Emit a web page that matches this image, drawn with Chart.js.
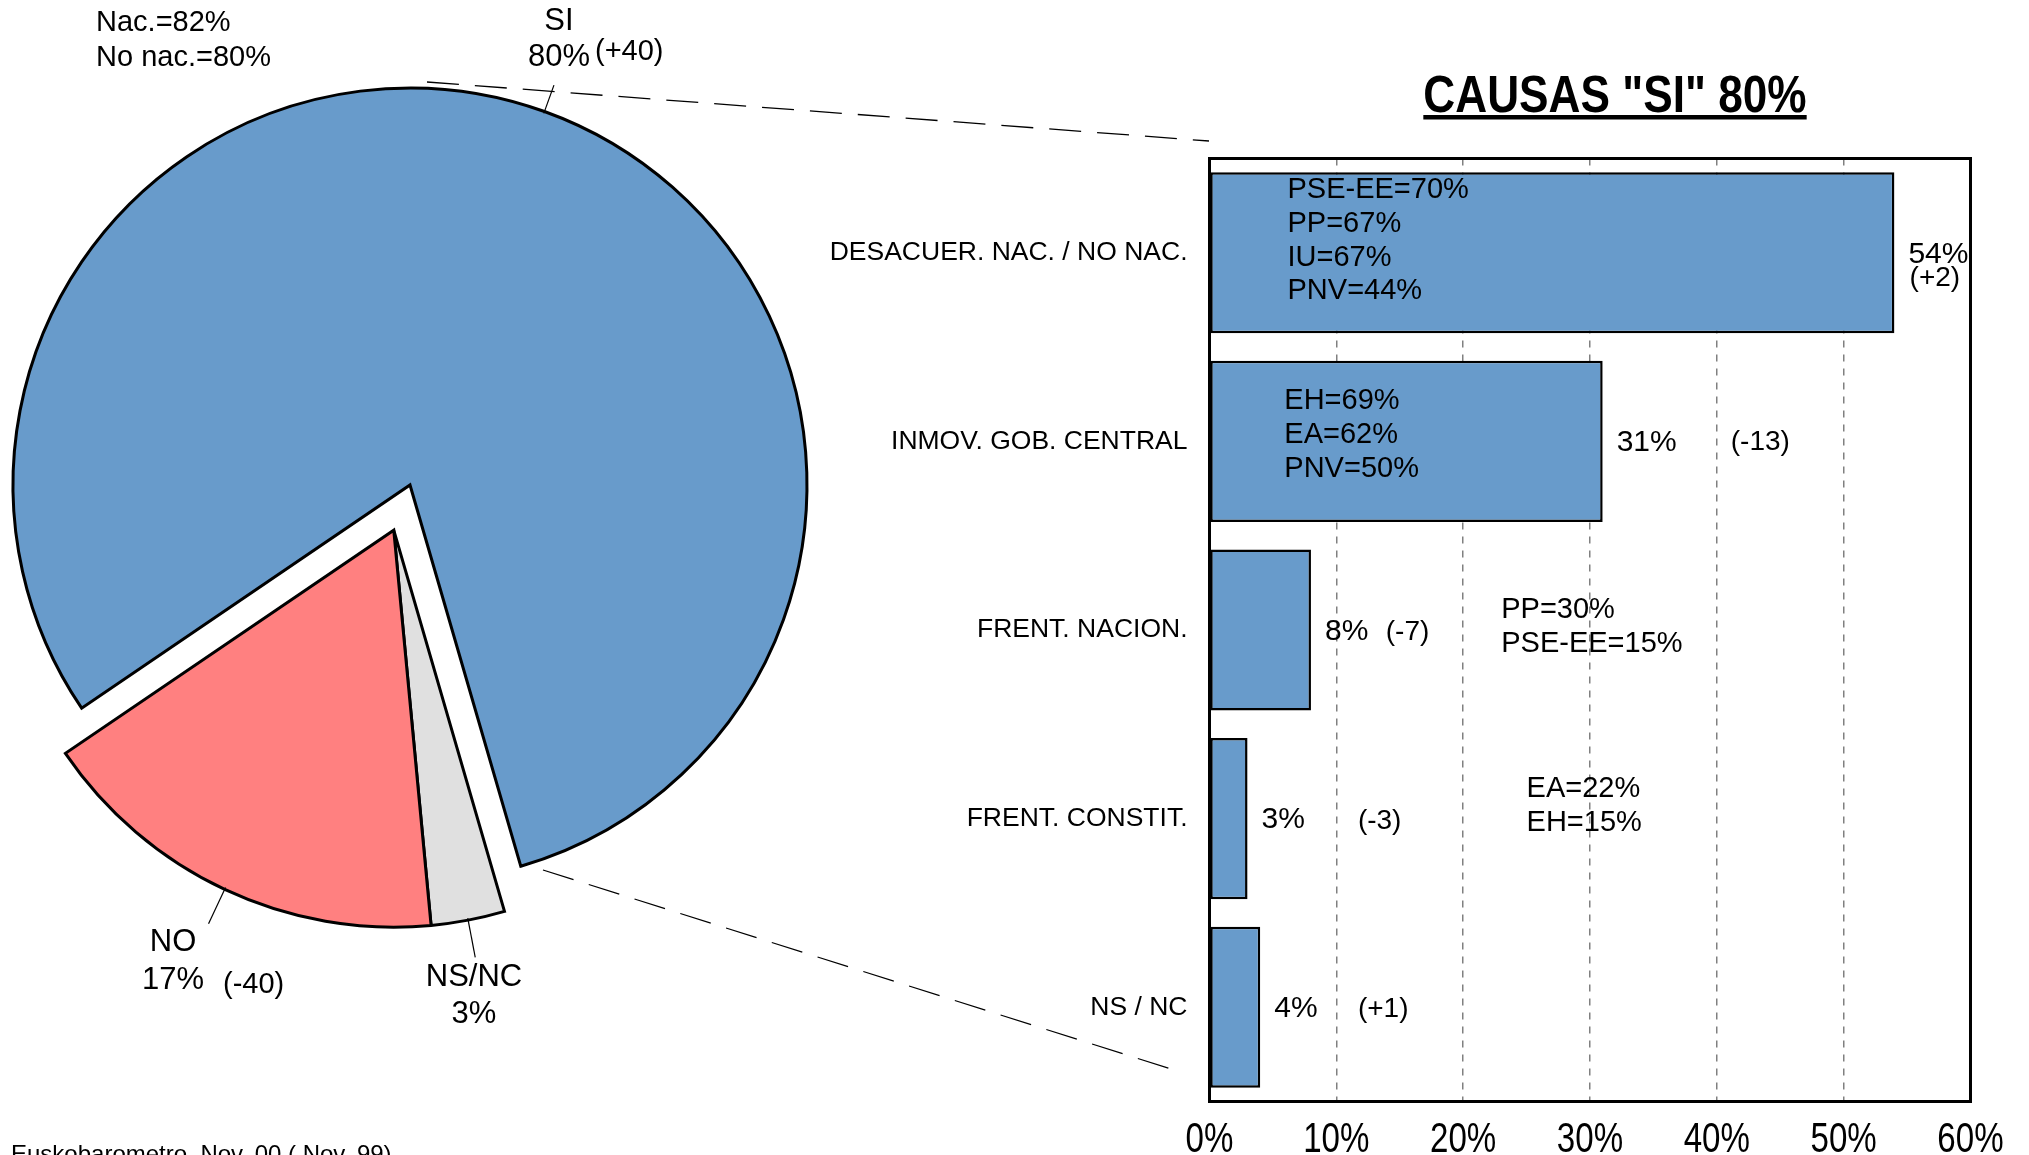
<!DOCTYPE html>
<html>
<head>
<meta charset="utf-8">
<script src="https://cdn.jsdelivr.net/npm/chart.js@4.4.1/dist/chart.umd.min.js"></script>
<style>
  html, body { margin: 0; padding: 0; background: #fff; }
  #wrap { position: relative; width: 2029px; height: 1155px; overflow: hidden; background: #fff; }
  #wrap canvas { position: absolute; left: 0; top: 0; }
</style>
</head>
<body>
<div id="wrap">
  <canvas id="pieCanvas" width="2029" height="1155"></canvas>
  <canvas id="barCanvas" width="2029" height="1155"></canvas>
</div>
<script>
// Pie data (drawn clockwise: SI, NS/NC, NO)
const pieLabels = ['SI', 'NS/NC', 'NO'];
const pieValues = [80, 3, 17];
const pieChanges = ['(+40)', '', '(-40)'];
const pieColors = ['#689BCB', '#E0E0E0', '#FF8080'];

// Bar data: causes of "SI"
const barCategories = ['DESACUER. NAC. / NO NAC.', 'INMOV. GOB. CENTRAL', 'FRENT. NACION.', 'FRENT. CONSTIT.', 'NS / NC'];
const barValues = [54, 31, 8, 3, 4];
const barChanges = ['(+2)', '(-13)', '(-7)', '(-3)', '(+1)'];
const barNotes = [
  ['PSE-EE=70%', 'PP=67%', 'IU=67%', 'PNV=44%'],
  ['EH=69%', 'EA=62%', 'PNV=50%'],
  ['PP=30%', 'PSE-EE=15%'],
  ['EA=22%', 'EH=15%'],
  []
];
const xTickValues = [0, 10, 20, 30, 40, 50, 60];
const xTickLabels = ['0%', '10%', '20%', '30%', '40%', '50%', '60%'];

const chartTitle = 'CAUSAS "SI" 80%';
const topNotes = ['Nac.=82%', 'No nac.=80%'];
const sourceText = 'Euskobarometro. Nov. 00 ( Nov. 99)';

const SANS = '"Liberation Sans", Arial, sans-serif';

// Layout (positions only)
const explodeDist = 48;
const leaderLen = [28, 38, 38];
const pieText = [
  { name: [559, 21], value: [559, 57], change: [595, 52] },
  { name: [474, 977], value: [474, 1014] },
  { name: [173, 942], value: [173, 980], change: [223, 985] }
];
const noteX = [6.15, 5.9, 23.0, 25.0, 0];
const noteY0 = [-62.8, -40.4, -20, -29.6, 0];
const noteLine = 33.8;
const changePos = [
  { x: 55.2, dy: 25 }, { x: 41.1, dy: 1 }, { x: 13.9, dy: 2 }, { x: 11.7, dy: 3 }, { x: 11.7, dy: 2 }
];

// narrow text: regular face squeezed horizontally
function narrowText(ctx, text, x, y, font, squeeze) {
  ctx.save();
  ctx.font = font;
  ctx.translate(x, y);
  ctx.scale(squeeze, 1);
  ctx.fillText(text, 0, 0);
  const w = ctx.measureText(text).width * squeeze;
  ctx.restore();
  return w;
}

// Move NS/NC and NO together away from the centre
const explodePlugin = {
  id: 'explode',
  beforeDatasetsDraw(chart) {
    const arcs = chart.getDatasetMeta(0).data;
    const cx = arcs[0].x, cy = arcs[0].y;
    const mid = (arcs[1].startAngle + arcs[2].endAngle) / 2;
    for (let i = 1; i < arcs.length; i++) {
      arcs[i].x = cx + Math.cos(mid) * explodeDist;
      arcs[i].y = cy + Math.sin(mid) * explodeDist;
    }
  }
};

const pieTextPlugin = {
  id: 'pieText',
  afterDraw(chart) {
    const ctx = chart.ctx;
    const arcs = chart.getDatasetMeta(0).data;
    ctx.save();

    // leader lines
    ctx.strokeStyle = '#000';
    ctx.lineWidth = 1.2;
    arcs.forEach(function(arc, i) {
      const a = (arc.startAngle + arc.endAngle) / 2;
      const r = arc.outerRadius;
      ctx.beginPath();
      ctx.moveTo(arc.x + Math.cos(a) * (r - 2), arc.y + Math.sin(a) * (r - 2));
      ctx.lineTo(arc.x + Math.cos(a) * (r + leaderLen[i]), arc.y + Math.sin(a) * (r + leaderLen[i]));
      ctx.stroke();
    });

    // dashed connectors to the bar chart
    ctx.setLineDash([32, 16]);
    ctx.lineWidth = 1.3;
    ctx.beginPath();
    ctx.moveTo(427, 82); ctx.lineTo(1209, 141);
    ctx.moveTo(543, 870); ctx.lineTo(1171, 1069);
    ctx.stroke();
    ctx.setLineDash([]);

    // slice labels
    ctx.fillStyle = '#000';
    ctx.textBaseline = 'middle';
    pieText.forEach(function(t, i) {
      ctx.font = '31px ' + SANS;
      ctx.textAlign = 'center';
      ctx.fillText(pieLabels[i], t.name[0], t.name[1]);
      ctx.fillText(pieValues[i] + '%', t.value[0], t.value[1]);
      if (t.change) {
        ctx.font = '29px ' + SANS;
        ctx.textAlign = 'left';
        ctx.fillText(pieChanges[i], t.change[0], t.change[1]);
      }
    });

    ctx.font = '29px ' + SANS;
    ctx.textAlign = 'left';
    ctx.fillText(topNotes[0], 96, 23);
    ctx.fillText(topNotes[1], 96, 58);

    ctx.font = '24px ' + SANS;
    ctx.textBaseline = 'alphabetic';
    ctx.fillText(sourceText, 11, 1162);
    ctx.restore();
  }
};

new Chart(document.getElementById('pieCanvas'), {
  type: 'pie',
  data: {
    labels: pieLabels,
    datasets: [{
      data: pieValues,
      backgroundColor: pieColors,
      borderColor: '#000',
      borderWidth: 3,
      borderJoinStyle: 'miter'
    }]
  },
  options: {
    responsive: false,
    animation: false,
    events: [],
    rotation: 235.8,
    radius: 397,
    layout: { padding: { left: 10, top: 85, right: 1219, bottom: 270 } },
    plugins: { legend: { display: false }, tooltip: { enabled: false } }
  },
  plugins: [explodePlugin, pieTextPlugin]
});

const barTextPlugin = {
  id: 'barText',
  afterDatasetsDraw(chart) {
    const ctx = chart.ctx;
    const xs = chart.scales.x, ys = chart.scales.y;
    const area = chart.chartArea;
    ctx.save();

    // frame
    ctx.strokeStyle = '#000';
    ctx.lineWidth = 3;
    ctx.strokeRect(area.left, area.top, area.right - area.left, area.bottom - area.top);

    ctx.fillStyle = '#000';
    ctx.textBaseline = 'middle';
    ctx.textAlign = 'left';

    barValues.forEach(function(v, i) {
      const yc = ys.getPixelForValue(i);
      ctx.font = '30px ' + SANS;
      ctx.fillText(v + '%', xs.getPixelForValue(v) + 14, yc + 1.5);
      ctx.font = '28px ' + SANS;
      ctx.fillText(barChanges[i], xs.getPixelForValue(changePos[i].x), yc + changePos[i].dy);
      ctx.font = '29px ' + SANS;
      barNotes[i].forEach(function(n, j) {
        ctx.fillText(n, xs.getPixelForValue(noteX[i]), yc + noteY0[i] + j * noteLine);
      });
    });

    // x tick labels (narrow face), placed by the x scale
    ctx.textAlign = 'center';
    ctx.textBaseline = 'alphabetic';
    xTickValues.forEach(function(v, i) {
      narrowText(ctx, xTickLabels[i], xs.getPixelForValue(v), 1152, '43px ' + SANS, 0.77);
    });

    // title with underline
    const tx = 1615;
    const w = narrowText(ctx, chartTitle, tx, 112, 'bold 52px ' + SANS, 0.85);
    ctx.fillRect(tx - w / 2, 115, w, 4.5);
    ctx.restore();
  }
};

new Chart(document.getElementById('barCanvas'), {
  type: 'bar',
  data: {
    labels: barCategories,
    datasets: [{
      data: barValues,
      backgroundColor: '#689BCB',
      borderColor: '#000',
      borderWidth: 2.5,
      borderSkipped: false,
      barPercentage: 0.854,
      categoryPercentage: 1
    }]
  },
  options: {
    indexAxis: 'y',
    responsive: false,
    animation: false,
    events: [],
    layout: { padding: { left: 809.5, top: 158.5, right: 58.5, bottom: 0 } },
    scales: {
      x: {
        min: 0,
        max: 60,
        afterFit: function(s) { s.height = 53.5; },
        afterBuildTicks: function(s) { s.ticks = xTickValues.map(v => ({ value: v })); },
        ticks: { display: false },
        grid: {
          color: c => (c.tick && (c.tick.value === 0 || c.tick.value === 60)) ? 'rgba(0,0,0,0)' : '#808080',
          lineWidth: 1.5,
          drawTicks: false
        },
        border: { display: false, dash: [7, 7] }
      },
      y: {
        afterFit: function(s) { s.width = 400; },
        ticks: { font: { family: SANS, size: 26.5 }, color: '#000', padding: 22 },
        grid: { display: false, drawTicks: false },
        border: { display: false }
      }
    },
    plugins: { legend: { display: false }, tooltip: { enabled: false } }
  },
  plugins: [barTextPlugin]
});
</script>
</body>
</html>
